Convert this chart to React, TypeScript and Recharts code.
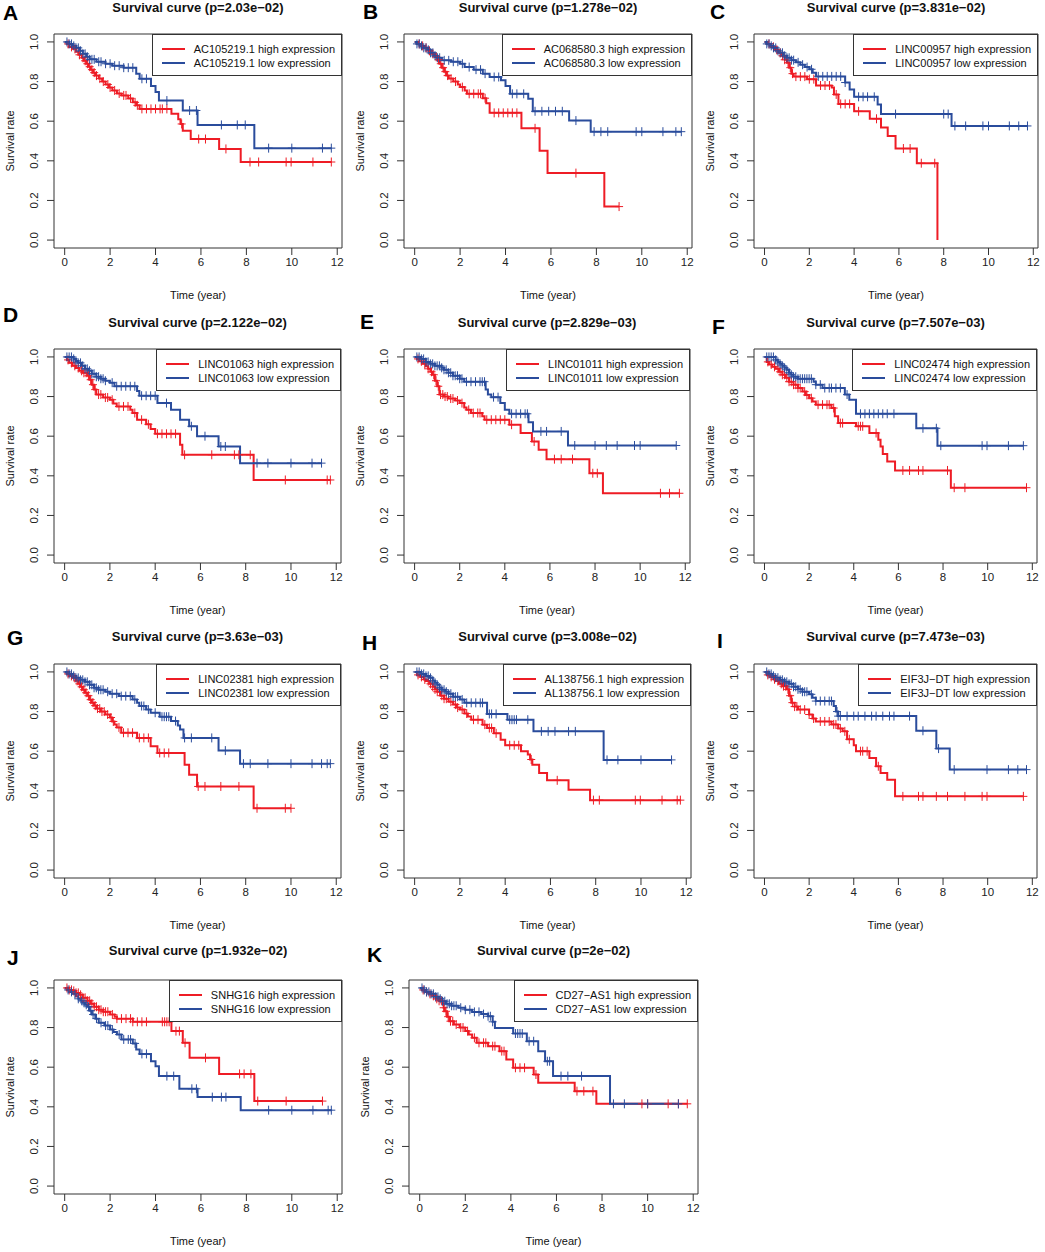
import React from 'react';
import { ComposedChart, Line, Scatter, XAxis, YAxis, ReferenceArea } from 'recharts';

type Step = [number, number];

// ---------- data (time in years, survival rate) ----------
const A_HIGH: Step[] = [[0,1],[0.1,0.99],[0.2,0.975],[0.35,0.965],[0.5,0.95],[0.6,0.935],[0.75,0.92],[0.85,0.905],[0.95,0.89],[1.05,0.875],[1.15,0.86],[1.25,0.845],[1.35,0.83],[1.5,0.815],[1.65,0.8],[1.8,0.785],[1.95,0.77],[2.1,0.755],[2.3,0.74],[2.5,0.73],[2.8,0.715],[3.0,0.695],[3.15,0.68],[3.3,0.662],[4.7,0.637],[5.0,0.61],[5.1,0.586],[5.2,0.552],[5.55,0.51],[6.8,0.46],[7.75,0.394]];
const A_HIGH_C = [0.15,0.3,0.45,0.65,0.8,0.9,1.0,1.1,1.2,1.3,1.4,1.55,1.7,1.9,2.0,2.2,2.4,2.6,2.7,2.9,3.1,3.2,3.4,3.6,3.8,4.0,4.2,4.3,4.5,5.15,5.9,6.2,7.1,8.16,8.54,9.75,9.97,10.93,11.74];
const A_LOW: Step[] = [[0,1],[0.2,0.99],[0.35,0.98],[0.5,0.97],[0.65,0.955],[0.8,0.94],[0.95,0.925],[1.1,0.912],[1.4,0.9],[1.8,0.89],[2.1,0.88],[2.6,0.87],[3.15,0.84],[3.3,0.814],[3.8,0.777],[4.0,0.747],[4.15,0.704],[5.2,0.654],[5.85,0.581],[8.35,0.464]];
const A_LOW_C = [0.1,0.2,0.3,0.4,0.5,0.6,0.7,0.8,0.9,1.0,1.1,1.2,1.3,1.5,1.6,1.8,2.0,2.2,2.4,2.6,2.8,3.0,3.4,3.6,4.5,5.5,5.8,6.9,7.6,7.95,8.98,10.0,11.35,11.74];

const B_HIGH: Step[] = [[0,1],[0.15,0.99],[0.3,0.98],[0.45,0.97],[0.6,0.955],[0.75,0.94],[0.9,0.925],[1.0,0.91],[1.1,0.89],[1.2,0.87],[1.3,0.85],[1.4,0.83],[1.5,0.815],[1.7,0.8],[1.9,0.785],[2.0,0.772],[2.2,0.755],[2.3,0.738],[3.0,0.716],[3.15,0.69],[3.3,0.642],[4.7,0.564],[5.5,0.451],[5.85,0.338],[8.35,0.169]];
const B_HIGH_C = [0.2,0.35,0.5,0.65,0.8,0.95,1.05,1.15,1.25,1.35,1.45,1.6,1.8,2.1,2.4,2.6,2.8,2.9,3.1,3.5,3.7,3.9,4.1,4.3,4.5,5.3,7.1,9.0];
const B_LOW: Step[] = [[0,1],[0.1,0.99],[0.25,0.98],[0.4,0.97],[0.55,0.96],[0.7,0.945],[0.85,0.93],[1.0,0.92],[1.2,0.907],[1.6,0.9],[2.0,0.89],[2.2,0.873],[2.6,0.86],[3.0,0.84],[3.3,0.823],[3.8,0.806],[4.0,0.777],[4.2,0.738],[5.0,0.713],[5.2,0.65],[6.8,0.603],[7.75,0.547]];
const B_LOW_C = [0.1,0.2,0.3,0.4,0.5,0.6,0.7,0.8,0.9,1.0,1.1,1.3,1.5,1.7,1.9,2.1,2.4,2.7,2.9,3.1,3.5,3.7,4.3,4.5,4.8,5.3,5.6,5.9,6.2,6.5,7.1,7.9,8.2,8.5,9.75,10.0,10.93,11.5,11.74];

const C_HIGH: Step[] = [[0,1],[0.15,0.99],[0.3,0.975],[0.45,0.96],[0.6,0.945],[0.75,0.93],[0.9,0.91],[1.0,0.895],[1.1,0.87],[1.2,0.84],[1.3,0.825],[1.9,0.812],[2.3,0.78],[3.0,0.77],[3.1,0.735],[3.3,0.687],[4.0,0.65],[4.7,0.612],[5.2,0.568],[5.5,0.525],[5.85,0.462],[6.8,0.388],[7.72,0]];
const C_HIGH_C = [0.2,0.4,0.55,0.7,0.8,0.9,1.05,1.15,1.25,1.4,1.6,1.8,2.0,2.2,2.5,2.7,2.9,3.2,3.4,3.6,3.8,4.2,5.0,6.2,6.5,7.0,7.6];
const C_LOW: Step[] = [[0,1],[0.1,0.99],[0.25,0.98],[0.4,0.97],[0.55,0.955],[0.7,0.945],[0.85,0.93],[1.0,0.92],[1.2,0.908],[1.4,0.897],[1.6,0.885],[1.8,0.873],[2.0,0.862],[2.15,0.845],[2.3,0.826],[3.6,0.795],[3.8,0.76],[4.0,0.723],[5.05,0.684],[5.2,0.636],[8.35,0.576]];
const C_LOW_C = [0.1,0.2,0.3,0.4,0.5,0.6,0.7,0.8,0.9,1.0,1.1,1.2,1.3,1.5,1.7,1.9,2.1,2.4,2.6,2.8,3.0,3.2,3.4,3.6,4.2,4.4,4.6,4.9,5.85,8.0,8.2,8.5,8.98,9.75,10.0,10.93,11.35,11.74];

const D_HIGH: Step[] = [[0,1],[0.1,0.985],[0.2,0.97],[0.35,0.955],[0.5,0.944],[0.65,0.93],[0.8,0.92],[1.0,0.905],[1.1,0.885],[1.2,0.86],[1.3,0.835],[1.4,0.81],[1.7,0.795],[2.0,0.784],[2.15,0.765],[2.3,0.75],[2.9,0.733],[3.0,0.717],[3.2,0.683],[3.6,0.66],[3.8,0.636],[4.0,0.612],[5.1,0.557],[5.2,0.506],[8.35,0.379]];
const D_HIGH_C = [0.15,0.3,0.45,0.6,0.75,0.85,0.95,1.05,1.15,1.25,1.35,1.5,1.6,1.8,1.9,2.1,2.4,2.6,2.8,3.1,3.4,3.7,4.1,4.3,4.5,4.7,4.9,5.3,6.5,7.5,7.7,8.2,9.75,11.6,11.74];
const D_LOW: Step[] = [[0,1],[0.4,0.99],[0.5,0.98],[0.6,0.97],[0.75,0.955],[0.9,0.94],[1.05,0.93],[1.2,0.915],[1.4,0.9],[1.6,0.89],[1.8,0.88],[2.0,0.87],[2.2,0.852],[3.2,0.828],[3.3,0.804],[4.1,0.767],[4.7,0.733],[5.1,0.683],[5.5,0.65],[5.85,0.6],[6.8,0.548],[7.75,0.464]];
const D_LOW_C = [0.1,0.2,0.3,0.4,0.5,0.6,0.7,0.8,0.9,1.0,1.1,1.2,1.3,1.4,1.5,1.6,1.7,1.8,2.1,2.3,2.5,2.7,2.9,3.1,3.4,3.6,3.8,4.0,4.5,5.6,6.2,6.9,7.1,8.5,8.98,10.0,10.93,11.35];

const E_HIGH: Step[] = [[0,1],[0.1,0.99],[0.2,0.978],[0.35,0.965],[0.5,0.953],[0.6,0.94],[0.7,0.925],[0.8,0.91],[0.9,0.88],[1.0,0.852],[1.1,0.81],[1.3,0.8],[1.5,0.79],[1.8,0.78],[2.0,0.767],[2.2,0.745],[2.3,0.733],[2.5,0.717],[3.0,0.7],[3.1,0.683],[4.2,0.658],[4.7,0.616],[5.2,0.573],[5.5,0.531],[5.85,0.484],[7.75,0.413],[8.35,0.312]];
const E_HIGH_C = [0.15,0.3,0.45,0.6,0.75,0.85,0.95,1.05,1.15,1.25,1.35,1.45,1.6,1.7,1.9,2.1,2.4,2.6,2.8,2.9,3.2,3.4,3.6,3.8,4.0,4.3,5.3,6.2,6.5,7.0,7.9,8.1,10.9,11.3,11.74];
const E_LOW: Step[] = [[0,1],[0.3,0.99],[0.5,0.975],[0.7,0.965],[0.9,0.955],[1.2,0.945],[1.3,0.935],[1.5,0.92],[1.7,0.905],[2.0,0.89],[2.2,0.875],[3.15,0.835],[3.25,0.81],[3.4,0.797],[3.8,0.767],[4.0,0.733],[4.2,0.713],[5.05,0.67],[5.25,0.624],[6.8,0.553]];
const E_LOW_C = [0.1,0.2,0.3,0.4,0.5,0.6,0.7,0.8,0.9,1.0,1.1,1.2,1.3,1.4,1.5,1.6,1.7,1.8,1.9,2.0,2.1,2.3,2.5,2.7,2.9,3.0,3.1,3.5,3.7,4.3,4.5,4.7,4.9,5.0,5.6,5.85,6.5,7.1,8.0,8.5,8.98,9.75,10.0,11.6];

const F_HIGH: Step[] = [[0,1],[0.1,0.975],[0.2,0.962],[0.35,0.95],[0.5,0.94],[0.65,0.925],[0.8,0.91],[0.95,0.895],[1.1,0.875],[1.3,0.86],[1.5,0.843],[1.7,0.825],[1.85,0.808],[2.0,0.792],[2.15,0.775],[2.3,0.759],[3.0,0.742],[3.15,0.7],[3.3,0.666],[4.1,0.65],[4.7,0.616],[5.1,0.582],[5.2,0.548],[5.3,0.51],[5.5,0.472],[5.85,0.427],[8.35,0.34]];
const F_HIGH_C = [0.15,0.3,0.45,0.6,0.7,0.8,0.9,1.0,1.1,1.2,1.3,1.4,1.5,1.6,1.8,1.9,2.1,2.4,2.6,2.8,2.9,3.1,3.4,3.5,4.2,4.3,4.4,5.0,6.2,6.5,6.9,7.1,8.2,8.5,8.98,11.74];
const F_LOW: Step[] = [[0,1],[0.5,0.985],[0.6,0.975],[0.7,0.965],[0.8,0.955],[0.9,0.945],[1.0,0.935],[1.1,0.92],[1.2,0.91],[1.3,0.9],[1.5,0.89],[2.2,0.875],[2.3,0.86],[2.6,0.843],[3.6,0.81],[3.8,0.784],[4.1,0.713],[6.8,0.64],[7.75,0.552]];
const F_LOW_C = [0.1,0.2,0.3,0.4,0.5,0.6,0.7,0.8,0.9,1.0,1.1,1.2,1.3,1.4,1.5,1.6,1.7,1.8,1.9,2.0,2.1,2.3,2.5,2.7,2.9,3.0,3.2,3.4,3.7,4.3,4.5,4.7,4.9,5.1,5.3,5.5,5.8,7.1,7.7,7.9,9.75,9.97,10.93,11.6];

const G_HIGH: Step[] = [[0,1],[0.1,0.99],[0.2,0.98],[0.35,0.97],[0.5,0.955],[0.6,0.94],[0.7,0.925],[0.8,0.91],[0.9,0.895],[1.0,0.88],[1.1,0.86],[1.2,0.845],[1.3,0.83],[1.4,0.815],[1.6,0.8],[1.8,0.785],[2.0,0.77],[2.1,0.75],[2.2,0.735],[2.3,0.72],[2.5,0.693],[3.2,0.667],[3.8,0.625],[4.1,0.591],[5.3,0.532],[5.5,0.481],[5.85,0.422],[8.35,0.312]];
const G_HIGH_C = [0.15,0.3,0.45,0.55,0.65,0.75,0.85,0.95,1.05,1.15,1.25,1.35,1.45,1.55,1.65,1.75,1.9,2.05,2.15,2.4,2.6,2.8,3.0,3.3,3.5,3.7,4.2,4.4,4.6,5.9,6.2,6.9,7.7,8.5,9.75,10.0];
const G_LOW: Step[] = [[0,1],[0.2,0.99],[0.35,0.98],[0.5,0.97],[0.7,0.96],[0.9,0.95],[1.1,0.935],[1.3,0.92],[1.5,0.91],[1.8,0.9],[2.0,0.89],[2.4,0.878],[3.0,0.861],[3.2,0.845],[3.3,0.828],[3.6,0.81],[3.8,0.794],[4.2,0.774],[4.7,0.752],[5.0,0.73],[5.1,0.709],[5.25,0.667],[6.8,0.603],[7.75,0.537]];
const G_LOW_C = [0.1,0.2,0.3,0.4,0.5,0.6,0.7,0.8,0.9,1.0,1.1,1.2,1.3,1.4,1.5,1.6,1.7,1.9,2.1,2.3,2.5,2.7,2.9,3.1,3.4,3.5,3.7,4.0,4.3,4.4,4.5,4.6,4.9,5.3,5.6,6.5,7.1,7.9,8.2,8.98,10.0,10.93,11.35,11.6,11.74];

const H_HIGH: Step[] = [[0,1],[0.1,0.985],[0.25,0.975],[0.4,0.962],[0.5,0.954],[0.65,0.94],[0.8,0.925],[0.9,0.912],[1.0,0.9],[1.15,0.88],[1.3,0.865],[1.5,0.85],[1.7,0.835],[1.85,0.82],[2.0,0.81],[2.2,0.79],[2.35,0.775],[2.5,0.759],[3.0,0.734],[3.2,0.717],[3.5,0.69],[3.8,0.658],[4.0,0.63],[4.7,0.6],[5.0,0.583],[5.1,0.558],[5.2,0.532],[5.5,0.49],[5.85,0.453],[6.8,0.405],[7.75,0.353]];
const H_HIGH_C = [0.15,0.3,0.45,0.6,0.7,0.8,0.9,1.0,1.1,1.2,1.3,1.4,1.6,1.8,1.9,2.1,2.3,2.6,2.8,3.1,3.3,3.4,3.6,4.2,4.4,4.6,5.15,6.3,7.9,8.16,9.75,9.97,10.93,11.6,11.74];
const H_LOW: Step[] = [[0,1],[0.3,0.99],[0.5,0.98],[0.65,0.97],[0.8,0.955],[0.9,0.945],[1.0,0.935],[1.1,0.92],[1.2,0.91],[1.35,0.9],[1.5,0.89],[1.7,0.875],[2.0,0.861],[2.2,0.844],[3.2,0.788],[4.1,0.759],[5.25,0.7],[8.35,0.556]];
const H_LOW_C = [0.1,0.2,0.3,0.4,0.5,0.6,0.7,0.8,0.9,1.0,1.1,1.2,1.3,1.4,1.5,1.6,1.7,1.8,1.9,2.1,2.3,2.5,2.7,2.9,3.0,3.3,3.4,3.6,4.2,4.3,4.4,4.5,5.0,5.6,5.9,6.2,6.8,7.1,8.5,8.98,10.0,11.35];

const I_HIGH: Step[] = [[0,1],[0.1,0.985],[0.25,0.975],[0.4,0.963],[0.5,0.954],[0.65,0.94],[0.8,0.928],[1.0,0.912],[1.1,0.88],[1.2,0.845],[1.35,0.825],[1.5,0.81],[2.0,0.785],[2.15,0.765],[2.3,0.75],[3.0,0.735],[3.3,0.715],[3.5,0.7],[3.7,0.66],[4.0,0.63],[4.1,0.6],[4.7,0.566],[5.0,0.524],[5.2,0.49],[5.5,0.456],[5.85,0.372]];
const I_HIGH_C = [0.15,0.3,0.45,0.6,0.75,0.85,0.95,1.05,1.15,1.25,1.35,1.45,1.6,1.8,2.0,2.2,2.5,2.7,2.9,3.1,3.2,3.4,3.6,3.8,4.3,4.4,4.6,5.1,6.2,6.9,7.1,7.7,8.2,8.98,9.75,9.97,11.6];
const I_LOW: Step[] = [[0,1],[0.2,0.99],[0.35,0.98],[0.5,0.971],[0.7,0.96],[0.9,0.95],[1.1,0.94],[1.3,0.925],[1.5,0.912],[1.7,0.9],[2.0,0.887],[2.15,0.87],[2.3,0.853],[3.1,0.828],[3.2,0.8],[3.3,0.777],[6.8,0.703],[7.7,0.613],[8.3,0.507]];
const I_LOW_C = [0.1,0.2,0.3,0.4,0.5,0.6,0.7,0.8,0.9,1.0,1.1,1.2,1.3,1.4,1.5,1.6,1.7,1.8,1.9,2.1,2.3,2.5,2.7,2.9,3.0,3.25,3.3,3.4,3.7,4.0,4.2,4.5,4.8,5.0,5.3,5.6,5.8,6.5,7.1,7.8,8.5,9.97,10.93,11.35,11.74];

const J_HIGH: Step[] = [[0,1],[0.2,0.99],[0.35,0.985],[0.5,0.975],[0.65,0.965],[0.8,0.95],[1.0,0.935],[1.15,0.92],[1.3,0.905],[1.5,0.89],[1.7,0.88],[2.0,0.866],[2.2,0.855],[2.3,0.845],[3.0,0.829],[4.7,0.782],[5.2,0.723],[5.5,0.647],[6.8,0.566],[8.35,0.429]];
const J_HIGH_C = [0.1,0.2,0.3,0.4,0.5,0.6,0.7,0.8,0.9,1.0,1.1,1.2,1.3,1.4,1.5,1.6,1.7,1.8,1.9,2.1,2.3,2.5,2.7,2.9,3.0,3.2,3.4,3.6,4.3,4.4,4.5,4.6,4.9,5.05,5.3,6.2,7.7,7.9,8.2,8.5,9.75,11.35];
const J_LOW: Step[] = [[0,1],[0.1,0.99],[0.2,0.98],[0.35,0.97],[0.5,0.958],[0.6,0.945],[0.7,0.935],[0.8,0.925],[0.9,0.915],[1.0,0.905],[1.1,0.885],[1.2,0.866],[1.35,0.845],[1.5,0.824],[1.75,0.81],[2.0,0.79],[2.15,0.778],[2.3,0.765],[2.5,0.74],[3.0,0.72],[3.15,0.689],[3.3,0.667],[3.8,0.63],[4.0,0.605],[4.15,0.555],[5.05,0.491],[5.85,0.449],[7.75,0.383]];
const J_LOW_C = [0.15,0.3,0.45,0.6,0.75,0.85,0.95,1.05,1.15,1.25,1.4,1.6,1.8,1.9,2.1,2.4,2.6,2.8,2.9,3.1,3.4,3.6,4.5,4.8,5.6,5.8,6.5,6.9,7.1,8.98,10.0,10.93,11.6,11.74];

const K_HIGH: Step[] = [[0,1],[0.1,0.99],[0.25,0.98],[0.4,0.97],[0.55,0.96],[0.7,0.945],[0.85,0.935],[1.0,0.924],[1.05,0.9],[1.1,0.882],[1.2,0.855],[1.3,0.832],[1.5,0.815],[1.75,0.8],[2.0,0.782],[2.15,0.765],[2.3,0.748],[2.5,0.723],[3.0,0.706],[3.5,0.681],[3.8,0.639],[4.1,0.597],[5.0,0.563],[5.2,0.521],[6.8,0.479],[7.75,0.415]];
const K_HIGH_C = [0.15,0.3,0.45,0.6,0.75,0.85,0.95,1.05,1.15,1.25,1.35,1.45,1.6,1.8,1.9,2.1,2.4,2.6,2.8,2.9,3.2,3.3,3.6,3.7,4.2,4.4,4.6,5.1,6.9,7.2,7.6,9.75,10.0,10.9,11.35,11.74];
const K_LOW: Step[] = [[0,1],[0.15,0.99],[0.3,0.98],[0.5,0.97],[0.7,0.955],[0.85,0.945],[1.0,0.933],[1.15,0.92],[1.4,0.91],[1.7,0.9],[2.0,0.89],[2.3,0.879],[2.7,0.868],[3.0,0.857],[3.2,0.829],[3.3,0.798],[4.1,0.77],[4.7,0.731],[5.2,0.681],[5.5,0.63],[5.85,0.555],[8.35,0.415]];
const K_LOW_C = [0.1,0.2,0.3,0.4,0.5,0.6,0.7,0.8,0.9,1.0,1.1,1.2,1.3,1.4,1.5,1.6,1.8,2.0,2.2,2.4,2.6,2.8,3.0,3.1,3.2,4.2,4.3,4.4,4.5,4.8,5.0,5.6,5.7,6.2,6.5,7.1,8.5,8.98,10.0,11.35];

const LETTERS = ['A','B','C','D','E','F','G','H','I','J','K'];
const GENES = ['AC105219.1','AC068580.3','LINC00957','LINC01063','LINC01011','LINC02474','LINC02381','AL138756.1','EIF3J\u2212DT','SNHG16','CD27\u2212AS1'];
const PVALUES = ['2.03e\u221202','1.278e\u221202','3.831e\u221202','2.122e\u221202','2.829e\u221203','7.507e\u221203','3.63e\u221203','3.008e\u221202','7.473e\u221203','1.932e\u221202','2e\u221202'];
const HIGH = [A_HIGH,B_HIGH,C_HIGH,D_HIGH,E_HIGH,F_HIGH,G_HIGH,H_HIGH,I_HIGH,J_HIGH,K_HIGH];
const HIGH_C = [A_HIGH_C,B_HIGH_C,C_HIGH_C,D_HIGH_C,E_HIGH_C,F_HIGH_C,G_HIGH_C,H_HIGH_C,I_HIGH_C,J_HIGH_C,K_HIGH_C];
const LOW = [A_LOW,B_LOW,C_LOW,D_LOW,E_LOW,F_LOW,G_LOW,H_LOW,I_LOW,J_LOW,K_LOW];
const LOW_C = [A_LOW_C,B_LOW_C,C_LOW_C,D_LOW_C,E_LOW_C,F_LOW_C,G_LOW_C,H_LOW_C,I_LOW_C,J_LOW_C,K_LOW_C];
const X_TICKS = [0, 2, 4, 6, 8, 10, 12];
const Y_TICKS = [0, 0.2, 0.4, 0.6, 0.8, 1.0];

// ---------- layout ----------
const LAYOUT = [
  { x: 0, y: 0, boxW: 288, lx: 3, lb: 20, ty: 8 },
  { x: 350, y: 0, boxW: 288, lx: 363, lb: 19, ty: 8 },
  { x: 700, y: 0, boxW: 284, lx: 710, lb: 19, ty: 8 },
  { x: 0, y: 315, boxW: 287, lx: 3, lb: 322, ty: 8 },
  { x: 350, y: 315, boxW: 286, lx: 360, lb: 329, ty: 8 },
  { x: 700, y: 315, boxW: 283, lx: 712, lb: 334, ty: 8 },
  { x: 0, y: 630, boxW: 287, lx: 7, lb: 645, ty: 7 },
  { x: 350, y: 630, boxW: 287, lx: 362, lb: 650, ty: 7 },
  { x: 700, y: 630, boxW: 283, lx: 717, lb: 648, ty: 7 },
  { x: 0, y: 946, boxW: 288, lx: 7, lb: 965, ty: 5 },
  { x: 355, y: 946, boxW: 289, lx: 367, lb: 962, ty: 5 },
];

const RED = '#EE1C25';
const BLUE = '#2A4C9C';
const AXIS = '#333333';
const FONT = '"Liberation Sans", Arial, Helvetica, sans-serif';
const X_DOMAIN: [number, number] = [-0.47, 12.21];
const Y_DOMAIN: [number, number] = [-0.04, 1.04];
const CH = 310;
const TOP = 34;
const LEFT = 54;
const RIGHT = 3;

function survAt(steps: Step[], t: number): number {
  let s = steps[0][1];
  for (const [tt, ss] of steps) if (tt <= t) s = ss;
  return s;
}
function curvePoints(steps: Step[], cens: number[]) {
  const last = steps[steps.length - 1];
  const end = Math.max(last[0], ...cens);
  const pts = steps.map(([t, s]) => ({ t, s }));
  if (end > last[0]) pts.push({ t: end, s: last[1] });
  return pts;
}
function censorPoints(steps: Step[], cens: number[]) {
  return cens.map((t) => ({ t, s: survAt(steps, t) }));
}

const plusShape = (color: string) => (props: any) => {
  const { cx, cy } = props;
  if (cx == null || cy == null) return <g />;
  return (
    <g>
      <line x1={cx} x2={cx} y1={cy - 4.5} y2={cy + 4.5} stroke={color} strokeWidth={1} />
      <line x1={cx - 4} x2={cx + 4} y1={cy} y2={cy} stroke={color} strokeWidth={1} />
    </g>
  );
};

const YTick = (props: any) => {
  const { x, y, payload } = props;
  return (
    <text
      x={0}
      y={0}
      transform={`translate(${x},${y}) rotate(-90)`}
      textAnchor="middle"
      dy="0.35em"
      fontSize={11.5}
      fontFamily={FONT}
      fill="#222"
    >
      {Number(payload.value).toFixed(1)}
    </text>
  );
};

function Panel({ i }: { i: number }) {
  const L = LAYOUT[i];
  const W = LEFT + L.boxW + RIGHT;
  const gene = GENES[i];
  const legendRow: React.CSSProperties = { display: 'flex', alignItems: 'center', height: 14 };
  const swatch = (c: string): React.CSSProperties => ({
    display: 'inline-block', width: 23, height: 0, borderTop: `2px solid ${c}`, marginRight: 9,
  });
  return (
    <div style={{ position: 'absolute', left: L.x, top: L.y, width: W, height: CH }}>
      <ComposedChart width={W} height={CH} margin={{ top: TOP, right: RIGHT, bottom: 0, left: 0 }}>
        <XAxis
          type="number"
          dataKey="t"
          domain={X_DOMAIN}
          ticks={X_TICKS}
          interval={0}
          allowDataOverflow
          axisLine={false}
          tickLine={{ stroke: AXIS }}
          tickSize={7}
          tickMargin={3}
          height={CH - 248}
          tick={{ fontSize: 11.5, fill: '#222', fontFamily: FONT }}
        />
        <YAxis
          type="number"
          dataKey="s"
          domain={Y_DOMAIN}
          ticks={Y_TICKS}
          interval={0}
          allowDataOverflow
          axisLine={false}
          tickLine={{ stroke: AXIS }}
          tickSize={7}
          tickMargin={13}
          width={LEFT}
          tick={<YTick />}
        />
        <ReferenceArea
          x1={X_DOMAIN[0]}
          x2={X_DOMAIN[1]}
          y1={Y_DOMAIN[0]}
          y2={Y_DOMAIN[1]}
          fill="none"
          fillOpacity={0}
          stroke={AXIS}
          strokeWidth={1}
          ifOverflow="visible"
        />
        <Line
          data={curvePoints(HIGH[i], HIGH_C[i])}
          dataKey="s"
          type="stepAfter"
          stroke={RED}
          strokeWidth={2}
          dot={false}
          activeDot={false}
          isAnimationActive={false}
        />
        <Scatter
          data={censorPoints(HIGH[i], HIGH_C[i])}
          dataKey="s"
          shape={plusShape(RED)}
          isAnimationActive={false}
        />
        <Line
          data={curvePoints(LOW[i], LOW_C[i])}
          dataKey="s"
          type="stepAfter"
          stroke={BLUE}
          strokeWidth={2}
          dot={false}
          activeDot={false}
          isAnimationActive={false}
        />
        <Scatter
          data={censorPoints(LOW[i], LOW_C[i])}
          dataKey="s"
          shape={plusShape(BLUE)}
          isAnimationActive={false}
        />
      </ComposedChart>

      {/* title */}
      <div style={{ position: 'absolute', left: LEFT, width: L.boxW, top: L.ty - 8, height: 16, lineHeight: '16px', textAlign: 'center', fontFamily: FONT, fontWeight: 'bold', fontSize: 13, color: '#111', whiteSpace: 'nowrap' }}>
        Survival curve (p={PVALUES[i]})
      </div>

      {/* legend */}
      <div style={{ position: 'absolute', top: TOP, right: RIGHT, border: `1px solid ${AXIS}`, background: '#fff', padding: '7px 6px 5px 9px', fontFamily: FONT, fontSize: 11, color: '#111', whiteSpace: 'nowrap', lineHeight: '14px' }}>
        <div style={legendRow}><span style={swatch(RED)} />{gene} high expression</div>
        <div style={legendRow}><span style={swatch(BLUE)} />{gene} low expression</div>
      </div>

      {/* x axis title */}
      <div style={{ position: 'absolute', left: LEFT, width: L.boxW, top: 295 - 8, height: 16, lineHeight: '16px', textAlign: 'center', fontFamily: FONT, fontSize: 11, color: '#111' }}>
        Time (year)
      </div>

      {/* y axis title */}
      <div style={{ position: 'absolute', left: 10 - 50, top: 141 - 8, width: 100, height: 16, lineHeight: '16px', textAlign: 'center', fontFamily: FONT, fontSize: 11, color: '#111', transform: 'rotate(-90deg)' }}>
        Survival rate
      </div>
    </div>
  );
}

export default function App() {
  return (
    <div style={{ position: 'absolute', left: 0, top: 0, width: 1045, height: 1252, background: '#fff', overflow: 'hidden', fontFamily: FONT }}>
      {LAYOUT.map((_, i) => (
        <Panel key={i} i={i} />
      ))}
      {LAYOUT.map((L, i) => (
        <div key={'l' + i} style={{ position: 'absolute', left: L.lx, top: Math.max(0, L.lb - 17.8), fontFamily: FONT, fontWeight: 'bold', fontSize: 21, lineHeight: '21px', color: '#000' }}>
          {LETTERS[i]}
        </div>
      ))}
    </div>
  );
}
